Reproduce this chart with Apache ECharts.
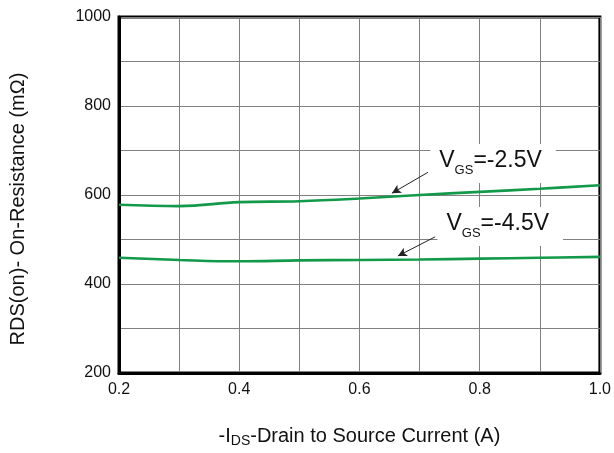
<!DOCTYPE html>
<html><head><meta charset="utf-8">
<script src="https://cdn.jsdelivr.net/npm/echarts@6/dist/echarts.min.js"></script>
<style>html,body{margin:0;padding:0;background:#fff}#c{width:614px;height:453px}</style>
</head><body><div id="c"></div>
<script>
var currentA = [0.2, 0.3, 0.4, 0.5, 0.6, 0.7, 0.8, 0.9, 1.0];
var rdsVgs25 = [578, 575, 584, 586, 592, 600, 607, 614, 622];
var rdsVgs45 = [459, 454, 451, 453, 454, 455, 457, 459, 461];
var xTicks = { min: 0.2, max: 1.0, step: 0.1 };
var yTicks = { min: 200, max: 1000, step: 100 };
var label25 = { text: '-2.5V', tail: [0.714, 651], head: [0.654, 604], textAt: [0.717, 671] };
var label45 = { text: '-4.5V', tail: [0.726, 506], head: [0.664, 463], textAt: [0.729, 529] };

function pairs(xs, ys) { return xs.map(function (x, i) { return [x, ys[i]]; }); }
var green = '#12994a';
var font = 'Liberation Sans, Arial, sans-serif';
var rich = {
  v: { fontSize: 23, lineHeight: 23, fontFamily: font, color: '#111', padding: [0, 0, 5, 0], verticalAlign: 'bottom' },
  s: { fontSize: 13, lineHeight: 13, fontFamily: font, color: '#111', verticalAlign: 'bottom' },
  t: { fontSize: 23, lineHeight: 23, fontFamily: font, color: '#111', padding: [0, 0, 5, 0], verticalAlign: 'bottom' }
};
function annot(l) {
  return {
    markLine: {
      silent: true, symbol: ['none', 'arrow'], symbolSize: [7, 9],
      lineStyle: { color: '#222', width: 1, type: 'solid' },
      label: { show: false },
      data: [[{ coord: l.tail }, { coord: l.head }]]
    },
    markPoint: {
      silent: true, symbol: 'rect', symbolSize: 1,
      itemStyle: { color: 'rgba(0,0,0,0)' },
      data: [{ coord: l.textAt, label: { show: true, position: 'right', distance: 0,
        backgroundColor: '#fff', padding: [10, 14, 6, 9],
        formatter: '{v|V}{s|GS}{t|=' + l.text + '}', rich: rich } }]
    }
  };
}
var chart = echarts.init(document.getElementById('c'));
var s1 = Object.assign({ type: 'line', data: pairs(currentA, rdsVgs25), smooth: 0.4, showSymbol: false,
  lineStyle: { color: green, width: 2.6 }, itemStyle: { color: green }, z: 3 }, annot(label25));
var s2 = Object.assign({ type: 'line', data: pairs(currentA, rdsVgs45), smooth: 0.4, showSymbol: false,
  lineStyle: { color: green, width: 2.6 }, itemStyle: { color: green }, z: 3 }, annot(label45));
chart.setOption({
  animation: false,
  grid: { left: 119, right: 14, top: 17, bottom: 78, show: true, borderColor: '#000', borderWidth: 3, backgroundColor: '#fff' },
  xAxis: {
    type: 'value', min: xTicks.min, max: xTicks.max, interval: xTicks.step,
    axisLine: { show: true, lineStyle: { color: '#000', width: 3 } },
    axisTick: { show: false },
    splitLine: { show: true, lineStyle: { color: '#808080', width: 1 } },
    axisLabel: { color: '#111', fontSize: 16, fontFamily: font, margin: 9,
      formatter: function (v) { return Math.round(v * 10) % 2 === 0 ? v.toFixed(1) : ''; } },
    name: '{a|-I}{b|DS}{a|-Drain to Source Current (A)}', nameLocation: 'middle', nameGap: 52,
    nameTextStyle: { rich: { a: { fontSize: 20, fontFamily: font, color: '#111' },
      b: { fontSize: 14, fontFamily: font, color: '#111', padding: [9, 0, 0, 0] } } }
  },
  yAxis: {
    type: 'value', min: yTicks.min, max: yTicks.max, interval: yTicks.step,
    axisLine: { show: true, lineStyle: { color: '#000', width: 3 } },
    axisTick: { show: false },
    splitLine: { show: true, lineStyle: { color: '#808080', width: 1 } },
    axisLabel: { color: '#111', fontSize: 16, fontFamily: font, margin: 8,
      formatter: function (v) { return v % 200 === 0 ? String(v) : ''; } },
    name: 'RDS(on)- On-Resistance (mΩ)', nameLocation: 'middle', nameGap: 91, nameRotate: 90,
    nameTextStyle: { fontSize: 20, fontFamily: font, color: '#111', padding: [0, 28, 0, 0] }
  },
  series: [s1, s2]
});
</script></body></html>
